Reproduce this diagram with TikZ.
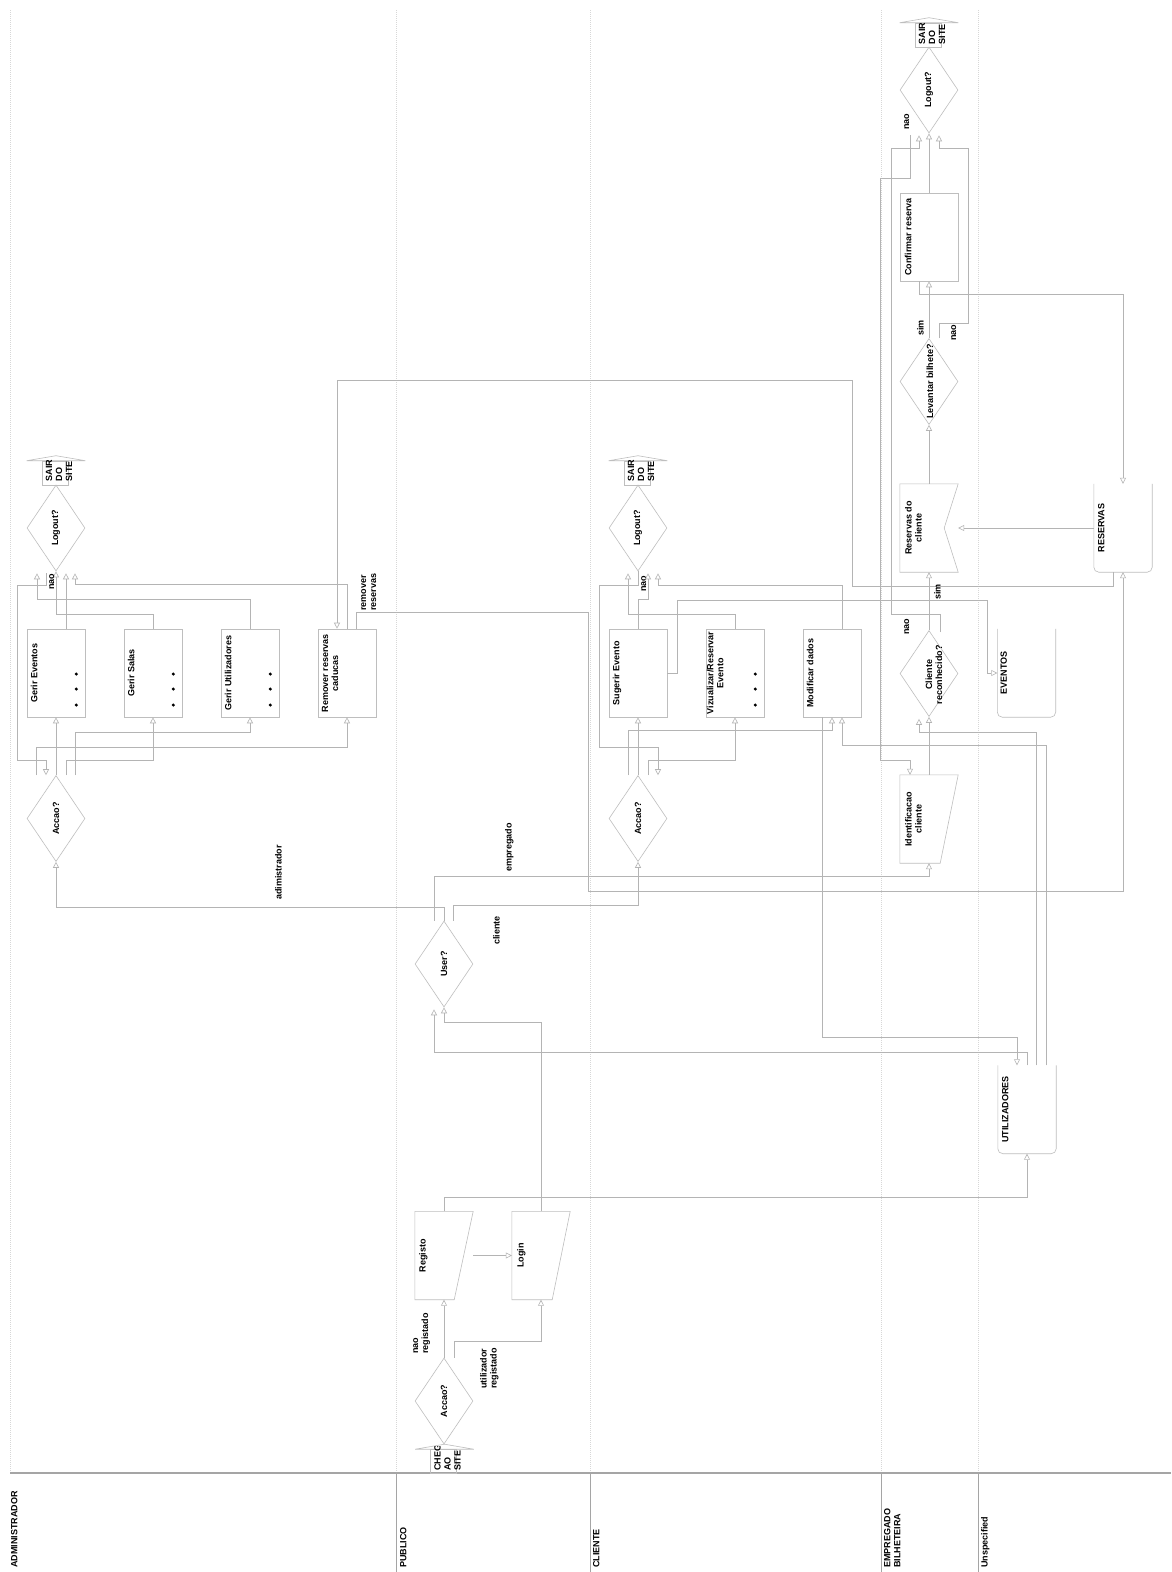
\documentclass[tikz,border=0pt]{standalone}
\usepackage{fontspec}
\setmainfont{Liberation Sans}
\usetikzlibrary{arrows.meta,calc,shapes.geometric}
\definecolor{lineC}{RGB}{180,180,180}
\definecolor{shapeC}{RGB}{190,190,190}
\definecolor{laneC}{RGB}{215,215,215}
\definecolor{hdrC}{RGB}{165,165,165}
\tikzset{
  ln/.style={draw=lineC, line width=0.6pt},
  ar/.style={ln, -{Triangle[open, length=6pt, width=6pt]}},
  shp/.style={draw=shapeC, line width=0.6pt},
  boxn/.style={shp, rectangle, minimum width=58pt, minimum height=88pt, inner sep=0pt},
  dmd/.style={shp, diamond, minimum width=58pt, minimum height=86pt, inner sep=0pt},
  frame/.style={rectangle, minimum width=58pt, minimum height=88pt, inner sep=0pt},
  sairbody/.style={shp, rectangle, minimum width=26pt, minimum height=24pt, inner sep=0pt},
  txt/.style={font=\bfseries\fontsize{9}{10}\selectfont, rotate=90, inner sep=0pt, align=center},
  lbl/.style={font=\bfseries\fontsize{9}{10}\selectfont, rotate=90, inner sep=0pt, align=left, anchor=north west},
  lane/.style={draw=laneC, line width=0.5pt, dash pattern=on 1pt off 1pt},
  dot/.style={fill=black},
}
\begin{document}
\begin{tikzpicture}[x=1pt, y=-1pt]
\useasboundingbox (0,0) rectangle (1171,1572);
\fill[white] (0,0) rectangle (1171,1572);

% ---------- lanes ----------
\foreach \lx in {10,396,590,881,978} {\draw[lane] (\lx,10) -- (\lx,1473);}
\foreach \lx in {396,590,881,978} {\draw[draw=hdrC, line width=0.6pt] (\lx,1473) -- (\lx,1572);}
\draw[draw=hdrC, line width=1.4pt] (10,1473) -- (1171,1473);
\node[lbl] (lA) at (11,1568) {ADMINISTRADOR};
\node[lbl] (lP) at (400,1568) {PUBLICO};
\node[lbl] (lC) at (593,1568) {CLIENTE};
\node[lbl] (lE) at (884,1568) {EMPREGADO\\BILHETEIRA};
\node[lbl] (lU) at (981,1568) {Unspecified};

% ---------- nodes: ADMINISTRADOR ----------
\node[dmd] (lo1) at (56,528) {};
\node[dmd] (ac1) at (56,818.5) {};
\node[boxn] (ge) at (56,673) {};
\node[boxn] (gs) at (153,673) {};
\node[boxn] (gu) at (250,673) {};
\node[boxn] (rr) at (347,673) {};
\node[sairbody] (s1) at (55,473) {};

% ---------- nodes: CLIENTE ----------
\node[dmd] (lo2) at (638,528) {};
\node[dmd] (ac2) at (638,818.5) {};
\node[boxn] (se) at (638,673) {};
\node[boxn] (vr) at (735,673) {};
\node[boxn] (md) at (832,673) {};
\node[sairbody] (s2) at (637,473) {};

% ---------- nodes: PUBLICO ----------
\node[dmd] (usr) at (444,964) {};
\node[dmd] (ac0) at (444,1401) {};
\node[frame] (reg) at (444,1255.5) {};
\node[frame] (lgn) at (541,1255.5) {};
\node[sairbody] (chg) at (443.5,1461.5) {};

% ---------- nodes: EMPREGADO ----------
\node[dmd] (lo3) at (929,90) {};
\node[boxn] (cr) at (929,237) {};
\node[dmd] (lb) at (929,381.5) {};
\node[frame] (rdc) at (929,528) {};
\node[dmd] (crc) at (929,673.5) {};
\node[frame] (idc) at (929,819) {};
\node[sairbody] (s3) at (928,35) {};

% ---------- nodes: Unspecified ----------
\node[frame] (res) at (1123,528) {};
\node[frame] (evt) at (1026.5,673) {};
\node[frame] (utl) at (1027,1109.5) {};

% ---------- custom outlines ----------
\draw[shp] (reg.north west) -- (reg.north east) -- ($(reg.south east)+(-19,0)$) -- (reg.south west) -- cycle;
\draw[shp] (lgn.north west) -- (lgn.north east) -- ($(lgn.south east)+(-18,0)$) -- (lgn.south west) -- cycle;
\draw[shp] (idc.north west) -- (idc.north east) -- ($(idc.south east)+(-18,0)$) -- (idc.south west) -- cycle;
\draw[shp] (rdc.north west) -- (rdc.north east) -- ($(rdc.east)+(-14,0)$) -- (rdc.south east) -- (rdc.south west) -- cycle;
\foreach \n in {res,evt,utl} {\draw[shp, rounded corners=5pt] (\n.north west) -- (\n.south west) -- (\n.south east) -- (\n.north east);}
\foreach \n in {s1,s2,s3,chg} {\draw[shp] ($(\n.north west)+(-15,0)$) -- ($(\n.north)+(1,-5)$) -- ($(\n.north east)+(17,0)$) -- cycle;}

% ---------- texts ----------
\node[txt] (t1) at (lo1) {Logout?};
\node[txt] (t2) at (ac1) {Accao?};
\node[txt, anchor=north] (t3) at ($(ge.west)+(4,0)$) {Gerir Eventos};
\node[txt, anchor=north] (t4) at ($(gs.west)+(4,0)$) {Gerir Salas};
\node[txt, anchor=north] (t5) at ($(gu.west)+(4,0)$) {Gerir Utilizadores};
\node[txt, anchor=north] (t6) at ($(rr.west)+(4,0)$) {Remover reservas\\caducas};
\node[txt] (t7) at (lo2) {Logout?};
\node[txt] (t8) at (ac2) {Accao?};
\node[txt, anchor=north] (t9) at ($(se.west)+(4,0)$) {Sugerir Evento};
\node[txt, anchor=north] (t10) at ($(vr.west)+(1,0)$) {Vizualizar/Reservar\\Evento};
\node[txt, anchor=north] (t11) at ($(md.west)+(4,0)$) {Modificar dados};
\node[txt] (t12) at (usr) {User?};
\node[txt] (t13) at (ac0) {Accao?};
\node[txt, anchor=north] (t14) at ($(reg.west)+(4,0)$) {Registo};
\node[txt, anchor=north] (t15) at ($(lgn.west)+(5,0)$) {Login};
\node[txt] (t16) at (lo3) {Logout?};
\node[txt, anchor=north] (t17) at ($(cr.west)+(5,0)$) {Confirmar reserva};
\node[txt] (t18) at ($(lb)+(1,0)$) {Levantar bilhete?};
\node[txt, anchor=north] (t19) at ($(rdc.west)+(5,0)$) {Reservas do\\cliente};
\node[txt] (t20) at ($(crc)+(5,1)$) {Cliente\\reconhecido?};
\node[txt, anchor=north] (t21) at ($(idc.west)+(5,0)$) {Identificacao\\cliente};
\node[txt, anchor=north] (t22) at ($(res.west)+(4,0)$) {RESERVAS};
\node[txt, anchor=north] (t23) at ($(evt.west)+(3,0)$) {EVENTOS};
\node[txt, anchor=north] (t24) at ($(utl.west)+(4,0)$) {UTILIZADORES};
\node[txt, align=left, anchor=west] (t25) at ($(s1.south)+(4,-4)$) {SAIR\\DO\\SITE};
\node[txt, align=left, anchor=west] (t26) at ($(s2.south)+(4,-4)$) {SAIR\\DO\\SITE};
\node[txt, align=left, anchor=west] (t27) at ($(s3.south)+(4,-3)$) {SAIR\\DO\\SITE};
\begin{scope}
\clip (420,1446) rectangle (475,1473);
\node[txt, align=left, anchor=west] (t28) at ($(chg.south)+(4,-3)$) {CHEGADA\\AO\\SITE};
\end{scope}

% dots
\foreach \n in {ge,gs,gu,vr} {\foreach \d in {1,16,32} {\fill[dot] ($(\n.east)+(-9,\d)$) circle[radius=1.7pt];}}

% ---------- connectors: ADMINISTRADOR ----------
\draw[ar] (ac1.north) -- (ge.south);
\draw[ar] ($(ac1.north)+(10,0)$) -- ++(0,-15) -| (gs.south);
\draw[ar] ($(ac1.north)+(19,0)$) -- ++(0,-43) -| (gu.south);
\draw[ar] ($(ac1.north)+(-20,0)$) -- ++(0,-28) -| (rr.south);
\draw[ar] ($(ge.north)+(10,0)$) -- ($(lo1.south)+(10,2)$);
\draw[ar] (gs.north) -- ++(0,-14) -| (lo1.south);
\draw[ar] (gu.north) -- ++(0,-29) -| ($(lo1.south)+(-19,2)$);
\draw[ar] (rr.north) -- ++(0,-44) -| ($(lo1.south)+(19,2)$);
\draw[ar] ($(lo1.south)+(-10,2)$) -- ++(0,12) -- ++(-29,0) -- ++(0,175) -- ++(29,0) -- ($(ac1.north)+(-10,0)$);
\node[lbl] (n1) at (49,590) {nao};
\draw[ar] (usr.north) -- ++(0,-13) -| (ac1.south);
\node[lbl] (n2) at (275,900) {adimistrador};
\draw[ar] ($(res.south)+(-10,0)$) -- ++(0,14) -- ++(-261,0) -- ++(0,-206) -| ($(rr.north)+(-10,0)$);
\draw[ar] ($(rr.north)+(9,0)$) -- ++(0,-16) -- ++(232,0) -- ++(0,279) -| (res.south);
\node[lbl] (n3) at (361,611) {remover\\reservas};

% ---------- connectors: CLIENTE ----------
\draw[ar] (ac2.north) -- (se.south);
\draw[ar] ($(ac2.north)+(-10,0)$) -- ++(0,-45) -| (md.south);
\draw[ar] ($(ac2.north)+(10,0)$) -- ++(0,-15) -| (vr.south);
\draw[ar] (lo2.south) -- ++(0,14) -- ++(-39,0) -- ++(0,162) -- ++(59,0) -- ($(ac2.north)+(20,0)$);
\node[lbl] (n4) at (641,592) {nao};
\draw[ar] (se.north) -- ++(0,-29) -| ($(lo2.south)+(10,2)$);
\draw[ar] (vr.north) -- ++(0,-14) -| ($(lo2.south)+(-10,2)$);
\draw[ar] ($(md.north)+(10,0)$) -- ++(0,-43) -| ($(lo2.south)+(20,2)$);
\draw[ar] (se.east) -- ++(10,0) -- ++(0,-73) -- ++(310,0) -- ++(0,73) -- (evt.west);
\draw[ar] ($(usr.north)+(9,0)$) -- ++(0,-15) -| (ac2.south);
\node[lbl] (n5) at (493,945) {cliente};
\draw[ar] ($(utl.north)+(19,0)$) -- ++(0,-320) -| ($(md.south)+(10,0)$);
\draw[ar] ($(md.south)+(-10,0)$) -- ++(0,320) -| ($(utl.north)+(-10,0)$);

% ---------- connectors: PUBLICO ----------
\draw[ar] (ac0.north) -- (reg.south);
\node[lbl] (n6) at (413,1354) {nao\\registado};
\draw[ar] ($(ac0.north)+(10,0)$) -- ++(0,-16) -| (lgn.south);
\node[lbl] (n7) at (480,1389) {utilizador\\registado};
\draw[ar] (reg.east) -- (lgn.west);
\draw[ar] (lgn.north) -- ++(0,-189.5) -| (usr.south);
\draw[ar] (utl.north) -- ++(0,-13.5) -| ($(usr.south)+(-10,2)$);
\draw[ar] (reg.north) -- ++(0,-14.5) -| (utl.south);
\draw[ar] ($(usr.north)+(-10,0)$) -- ++(0,-44) -| (idc.south);
\node[lbl] (n8) at (505,872) {empregado};

% ---------- connectors: EMPREGADO ----------
\draw[ar] (idc.north) -- (crc.south);
\draw[ar] ($(lo3.south)+(-19,2)$) -- ++(0,43) -- ++(-30,0) -- ++(0,582) -- ++(30,0) -- ($(idc.north)+(-19,0)$);
\node[lbl] (n9) at (904,130) {nao};
\draw[ar] ($(utl.north)+(9,0)$) -- ++(0,-333.5) -| ($(crc.south)+(-10,2)$);
\draw[ar] (crc.north) -- (rdc.south);
\node[lbl] (n10) at (934,600) {sim};
\draw[ar] ($(crc.north)+(11,2)$) -- ++(0,-17.5) -- ++(-49,0) -- ++(0,-466) -- ++(28,0) -- ($(lo3.south)+(-10,2)$);
\node[lbl] (n11) at (904,635) {nao};
\draw[ar] (res.west) -- (rdc.east);
\draw[ar] (rdc.north) -- (lb.south);
\draw[ar] (lb.north) -- (cr.south);
\node[lbl] (n12) at (917,336) {sim};
\draw[ar] ($(lb.north)+(10,0)$) -- ++(0,-14.5) -- ++(29,0) -- ++(0,-175) -- ++(-29,0) -- ($(lo3.south)+(10,2)$);
\node[lbl] (n13) at (951,341) {nao};
\draw[ar] (cr.north) -- (lo3.south);
\draw[ar] ($(cr.south)+(-10,0)$) -- ++(0,13) -| (res.north);
\end{tikzpicture}
\end{document}
